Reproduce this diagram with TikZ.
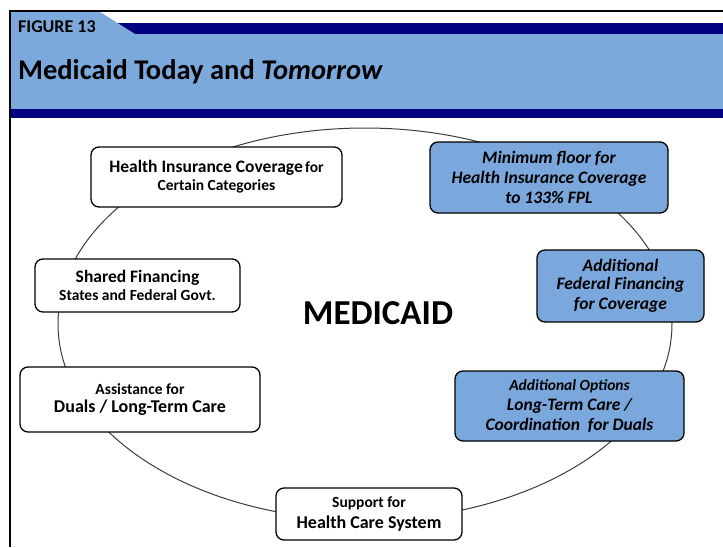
\documentclass[tikz,border=0pt]{standalone}
\usepackage{fontspec}
\setmainfont{Carlito}
\usetikzlibrary{shapes.geometric}
\definecolor{navy}{RGB}{0,0,128}
\definecolor{hdrblue}{RGB}{123,169,220}
\definecolor{boxblue}{RGB}{122,167,220}
\definecolor{ringgray}{RGB}{60,60,60}
\newcommand{\fs}[1]{\fontsize{#1}{#1}\selectfont}
\tikzset{
  plainbox/.style={draw=black, line width=1.3pt, rounded corners=8pt, fill=white,
    align=center, inner sep=0pt, font=\bfseries, text=black},
  bluebox/.style={plainbox, fill=boxblue, font=\bfseries\itshape},
  ring/.style={draw=ringgray, line width=1pt, ellipse, inner sep=0pt}
}
\begin{document}
\begin{tikzpicture}[x=1pt,y=-1pt]
\useasboundingbox (0,0) rectangle (723,547);
\fill[white] (0,0) rectangle (723,547);
% header
\fill[navy] (100,23) rectangle (723,34);
\fill[hdrblue] (11,12) -- (100,12) -- (135,34) -- (723,34) -- (723,109) -- (11,109) -- cycle;
\fill[navy] (11,109) rectangle (723,118);
\draw[line width=1.5pt] (10,547) -- (10,11) -- (723,11);
\node[anchor=base west, font=\bfseries\fs{18}, inner sep=0pt] (fig) at (18,32) {FIGURE 13};
\node[anchor=base west, font=\bfseries\fs{28.5}, inner sep=0pt] (title) at (18,79) {Medicaid Today and \textit{Tomorrow}};
% ring
\node[ring, minimum width=614pt, minimum height=392pt] (cyc) at (365,324) {};
\node[font=\bfseries\fs{35}, inner sep=0pt] (med) at (378,313) {MEDICAID};
% boxes
\node[plainbox, minimum width=251pt, minimum height=60pt] (b1) at (216.5,177)
  {{\fs{17.5}Health Insurance Coverage} {\fs{15.5}for}\\[3pt]{\fs{15.5}Certain Categories}};
\node[bluebox, minimum width=238pt, minimum height=71pt] (b2) at (549,177.5)
  {\fs{17.5}Minimum floor for\\[4.5pt]\fs{17.5}Health Insurance Coverage\\[4.5pt]\fs{17.5}to 133\% FPL};
\node[plainbox, minimum width=205pt, minimum height=53pt] (b3) at (137.5,285.5)
  {{\fs{17.5}Shared Financing}\\[3pt]{\fs{15.5}States and Federal Govt.}};
\node[bluebox, minimum width=167pt, minimum height=72pt] (b4) at (620.5,286)
  {\fs{17.5}Additional\\[4.5pt]\fs{17.5}Federal Financing\\[4.5pt]\fs{17.5}for Coverage};
\node[plainbox, minimum width=240pt, minimum height=65pt] (b5) at (140,399.5)
  {{\fs{15.5}Assistance for}\\[5pt]{\fs{18}Duals / Long-Term Care}};
\node[bluebox, minimum width=229pt, minimum height=70pt] (b6) at (569.5,406)
  {{\fs{15.5}Additional Options}\\[4pt]{\fs{17.5}Long-Term Care /}\\[4pt]{\fs{17.5}Coordination\ \ for Duals}};
\node[plainbox, minimum width=186pt, minimum height=52pt] (b7) at (369,514)
  {{\fs{15.5}Support for}\\[4pt]{\fs{18}Health Care System}};
\end{tikzpicture}
\end{document}
